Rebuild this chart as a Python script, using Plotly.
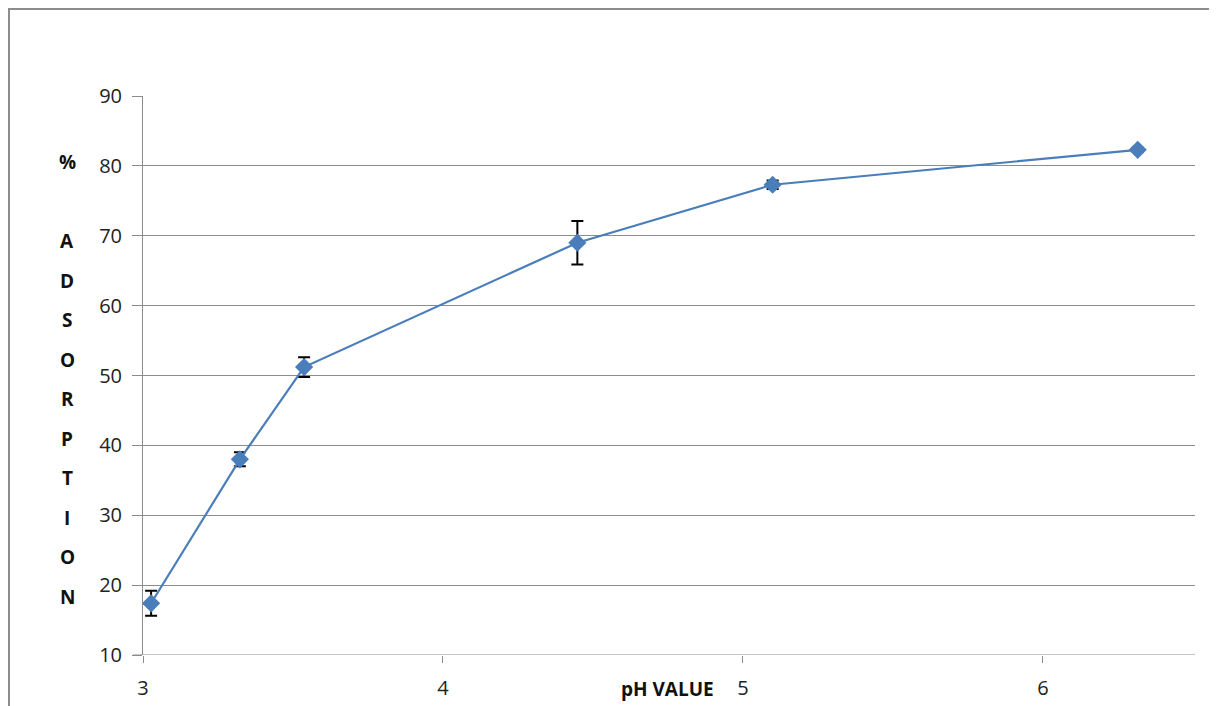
import plotly.graph_objects as go

ph = [3.027, 3.323, 3.537, 4.448, 5.099, 6.316]
adsorption = [17.4, 38.0, 51.2, 69.0, 77.3, 82.3]
err = [1.8, 1.0, 1.4, 3.1, 0.6, 0.3]
y_letters = ["%", "", "A", "D", "S", "O", "R", "P", "T", "I", "O", "N"]

OFF = 8  # page body margin offset
W, H = 1201, 698
L, T = 143 - OFF, 96 - OFF
pw, ph_ = 1052, 559
R = W - L - pw
B = H - T - ph_


def px(xs):
    return (xs - OFF - L) / pw


def py(ys):
    return 1 - (ys - OFF - T) / ph_


fig = go.Figure()
fig.add_trace(go.Scatter(
    x=ph, y=adsorption, mode="lines+markers",
    line=dict(color="#4A7EBB", width=2.2),
    marker=dict(symbol="diamond", size=14, color="#4A7EBB"),
    error_y=dict(type="data", array=err, visible=True, color="black", thickness=2, width=6),
    showlegend=False,
))

grid = "#8C8C8C"
fam = "Open Sans, DejaVu Sans, sans-serif"
font = dict(family=fam, size=20, color="#222222")
fig.update_layout(
    template="none",
    width=W, height=H,
    margin=dict(l=L, r=R, t=T, b=B, autoexpand=False),
    paper_bgcolor="white", plot_bgcolor="white",
    font=font,
    xaxis=dict(range=[3, 6.507], tickvals=[3, 4, 5, 6], showgrid=False, zeroline=False,
               showline=False, ticks="outside", ticklen=7, tickcolor=grid,
               ticklabelstandoff=8, tickfont=font, automargin=False),
    yaxis=dict(range=[10, 90], dtick=10, showgrid=True, gridcolor=grid, gridwidth=1,
               zeroline=False, showline=True, linecolor=grid, linewidth=1,
               ticks="outside", ticklen=10, tickcolor=grid, ticklabelstandoff=6,
               tickfont=font, automargin=False),
)

# outer border
fig.add_shape(type="rect", xref="paper", yref="paper",
              x0=px(9), x1=px(1260), y0=py(760), y1=py(9),
              line=dict(color="#8C8C8C", width=2), fillcolor="rgba(0,0,0,0)", layer="below")

# bottom gridline at 10 (axis baseline)
fig.add_shape(type="line", xref="paper", yref="y", x0=px(133), x1=1, y0=10, y1=10,
              line=dict(color=grid, width=1))

# y-axis title, stacked letters
y0px = 162
for i, ch in enumerate(y_letters):
    if not ch:
        continue
    ypx = y0px + i * 39.5
    fig.add_annotation(text=f"<b>{ch}</b>", xref="paper", yref="paper",
                       x=px(67), y=py(ypx), showarrow=False,
                       font=dict(family=fam, size=19, color="#111111"),
                       xanchor="center", yanchor="middle")

# x-axis title
fig.add_annotation(text="<b>pH VALUE</b>", xref="paper", yref="paper",
                   x=px(667), y=py(689), showarrow=False,
                   font=dict(family=fam, size=19, color="#111111"),
                   xanchor="center", yanchor="middle")

fig.write_html("out.html")
